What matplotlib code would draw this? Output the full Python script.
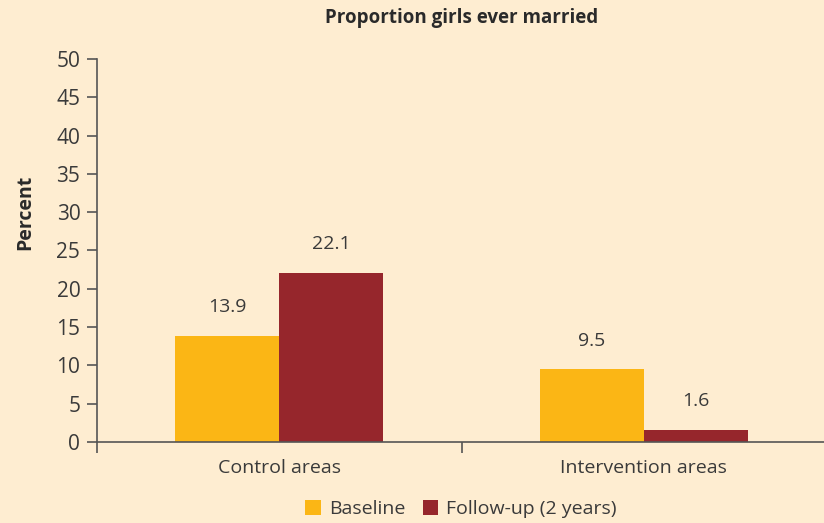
import matplotlib.pyplot as plt
import numpy as np

categories = ["Control areas", "Intervention areas"]
series_names = ["Baseline", "Follow-up (2 years)"]
baseline = [13.9, 9.5]
followup = [22.1, 1.6]
yticks = [0, 5, 10, 15, 20, 25, 30, 35, 40, 45, 50]

bg = "#FEEDD1"
c_base = "#FBB615"
c_follow = "#96262C"
txt = "#3a3a3a"

plt.rcParams['font.family'] = ['Open Sans', 'DejaVu Sans']

fig = plt.figure(figsize=(8.24, 5.23), dpi=100, facecolor=bg)
ax = fig.add_axes([97/824, 81/523, 729/824, 383/523])
ax.set_facecolor(bg)

x = np.arange(len(categories))
w = 0.285
b1 = ax.bar(x - w/2, baseline, w, color=c_base, label=series_names[0])
b2 = ax.bar(x + w/2, followup, w, color=c_follow, label=series_names[1])

for bars, vals in ((b1, baseline), (b2, followup)):
    for r, v in zip(bars, vals):
        ax.annotate(f"{v}", (r.get_x() + r.get_width()/2, v), xytext=(0, 14),
                    textcoords="offset points", ha="center", va="bottom",
                    fontsize=14, color=txt)

ax.set_xlim(-0.5, 1.5)
ax.set_ylim(0, 50)
ax.set_yticks(yticks)
ax.set_xticks(x)
ax.set_xticklabels(categories)
ax.set_xticks([-0.5, 0.5, 1.5], minor=True)
ax.tick_params(axis='x', which='major', length=0, pad=12, labelsize=14, labelcolor=txt)
ax.tick_params(axis='x', which='minor', length=8, width=1.2, color="#555555")
ax.tick_params(axis='y', length=7, width=1.2, color="#555555", labelsize=15, labelcolor=txt, pad=5)

for s in ("top", "right"):
    ax.spines[s].set_visible(False)
for s in ("left", "bottom"):
    ax.spines[s].set_color("#555555")
    ax.spines[s].set_linewidth(1.2)

ax.set_ylabel("Percent", fontsize=14, fontweight="bold", color="#2a2a2a")
ax.yaxis.set_label_coords(-(97 - 35) / 729, (442 - 212) / 383)
fig.text(462/824, 1 - 18/523, "Proportion girls ever married", ha="center", va="center",
         fontsize=13.5, fontweight="bold", color="#2a2a2a")

leg = fig.legend(loc="center", bbox_to_anchor=(461/824, 1 - 509/523), ncol=2, frameon=False,
                 fontsize=14, handlelength=0.8, handleheight=0.8, handletextpad=0.4,
                 columnspacing=0.9, labelcolor=txt)

fig.savefig("out.png", dpi=100, facecolor=bg)
